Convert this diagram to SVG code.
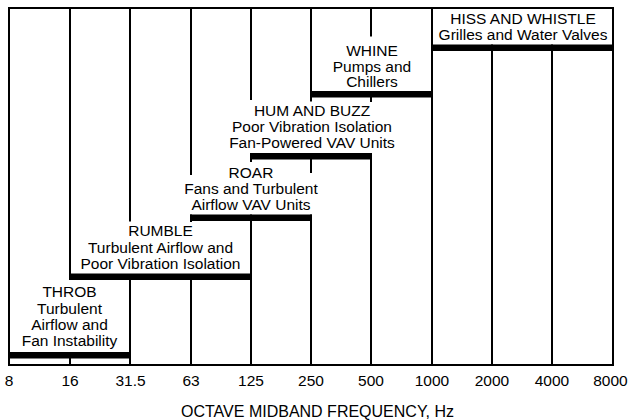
<svg xmlns="http://www.w3.org/2000/svg" width="630" height="420" viewBox="0 0 630 420">
<style>
.ln{stroke:#000;stroke-width:2;fill:none}
.bar{fill:#000}
text{font-family:"Liberation Sans",Arial,Helvetica,sans-serif;font-size:15.5px;fill:#000;text-anchor:middle}
.title{font-size:16px}
</style>
<rect x="0" y="0" width="630" height="420" fill="#fff"/>
<g id="grid">
<rect class="ln" x="9" y="8" width="604" height="357"/>
<path class="ln" d="M70 8V280M70 358V365"/>
<path class="ln" d="M130 8V221.5M130 280V365"/>
<path class="ln" d="M191 8V175M191 214.5V222M191 280V365"/>
<path class="ln" d="M251 8V100M251 153V162M251 214.5V365"/>
<path class="ln" d="M311 8V101.5M311 159V173M311 214.5V365"/>
<path class="ln" d="M371 8V36.5M371 91V102M371 153V365"/>
<path class="ln" d="M432 8V365"/>
<path class="ln" d="M492 44.5V365"/>
<path class="ln" d="M552 44.5V365"/>
</g>
<g id="hiss">
<rect class="bar" x="432" y="44.5" width="182" height="6.5"/>
<text x="523" y="24">HISS AND WHISTLE</text>
<text x="523" y="39.5">Grilles and Water Valves</text>
</g>
<g id="whine">
<rect class="bar" x="310" y="91" width="123" height="6.5"/>
<text x="372" y="56">WHINE</text>
<text x="372" y="71.8">Pumps and</text>
<text x="372" y="87.4">Chillers</text>
</g>
<g id="hum">
<rect class="bar" x="250" y="153" width="122" height="6.5"/>
<text x="312" y="116">HUM AND BUZZ</text>
<text x="312" y="132.3">Poor Vibration Isolation</text>
<text x="312" y="148.4">Fan-Powered VAV Units</text>
</g>
<g id="roar">
<rect class="bar" x="190" y="214.5" width="122" height="6.5"/>
<text x="251" y="178.3">ROAR</text>
<text x="251" y="193.8">Fans and Turbulent</text>
<text x="251" y="210">Airflow VAV Units</text>
</g>
<g id="rumble">
<rect class="bar" x="69" y="273.5" width="183" height="6.5"/>
<text x="160.5" y="236.3">RUMBLE</text>
<text x="160.5" y="252.5">Turbulent Airflow and</text>
<text x="160.5" y="268.5">Poor Vibration Isolation</text>
</g>
<g id="throb">
<rect class="bar" x="8" y="352" width="123" height="6.5"/>
<text x="69.5" y="297.3">THROB</text>
<text x="69.5" y="313.6">Turbulent</text>
<text x="69.5" y="329.9">Airflow and</text>
<text x="69.5" y="346.2">Fan Instability</text>
</g>
<g id="axis">
<text x="9" y="386">8</text>
<text x="70" y="386">16</text>
<text x="130.5" y="386">31.5</text>
<text x="191" y="386">63</text>
<text x="251" y="386">125</text>
<text x="311" y="386">250</text>
<text x="371" y="386">500</text>
<text x="432" y="386">1000</text>
<text x="492" y="386">2000</text>
<text x="552" y="386">4000</text>
<text x="610.5" y="386">8000</text>
<text class="title" x="317.5" y="416.5">OCTAVE MIDBAND FREQUENCY, Hz</text>
</g>
</svg>
